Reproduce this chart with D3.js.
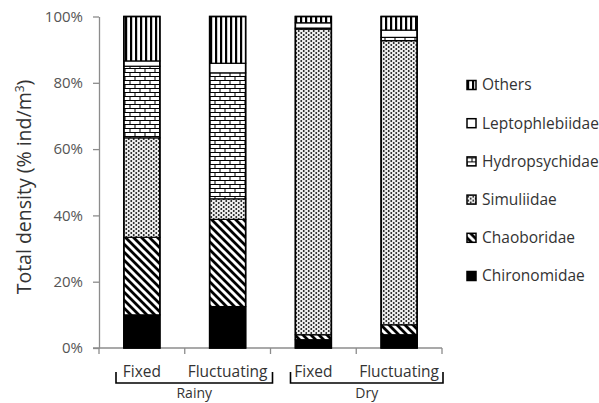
<!DOCTYPE html>
<html><head><meta charset="utf-8">
<script src="https://cdn.jsdelivr.net/npm/d3@7"></script>
<style>body{margin:0;background:#fff}svg{display:block}text{font-family:"Open Sans","Liberation Sans",sans-serif}</style>
</head><body><svg id="c" width="599" height="403"></svg>
<script>
const categories = ["Fixed","Fluctuating","Fixed","Fluctuating"];
const seasons = ["Rainy","Dry"];
const seriesNames = ["Chironomidae","Chaoboridae","Simuliidae","Hydropsychidae","Leptophlebiidae","Others"];
const chironomidae   = [10.0, 12.5, 2.5, 4.0];
const chaoboridae    = [23.4, 26.3, 1.5, 3.0];
const simuliidae     = [30.0,  6.2, 92.2, 85.7];
const hydropsychidae = [21.6, 38.0, 0.3, 1.0];
const leptophlebiidae= [ 1.6,  2.9, 1.6, 2.2];
const others         = [13.4, 14.1, 1.9, 4.1];
const yTicks = [0,20,40,60,80,100];

const seriesValues = [chironomidae, chaoboridae, simuliidae, hydropsychidae, leptophlebiidae, others];
const svg = d3.select("#c");
const defs = svg.append("defs");

// patterns
const pOth = defs.append("pattern").attr("id","pOthers").attr("patternUnits","userSpaceOnUse").attr("width",5).attr("height",10);
pOth.append("rect").attr("width",5).attr("height",10).attr("fill","#fff");
pOth.append("rect").attr("x",0).attr("width",2.2).attr("height",10).attr("fill","#000");

const pBr = defs.append("pattern").attr("id","pBrick").attr("patternUnits","userSpaceOnUse").attr("width",20).attr("height",8);
pBr.append("rect").attr("width",20).attr("height",8).attr("fill","#000");
[[0.5,1,9,3],[10.5,1,9,3],[-4.5,5,9,3],[5.5,5,9,3],[15.5,5,9,3]].forEach(r=>
  pBr.append("rect").attr("x",r[0]).attr("y",r[1]).attr("width",r[2]).attr("height",r[3]).attr("fill","#fff"));

const pDt = defs.append("pattern").attr("id","pDots").attr("patternUnits","userSpaceOnUse").attr("width",5).attr("height",4);
pDt.append("rect").attr("width",5).attr("height",4).attr("fill","#eee");
pDt.append("circle").attr("cx",1.25).attr("cy",1).attr("r",0.95).attr("fill","#1a1a1a");
pDt.append("circle").attr("cx",3.75).attr("cy",3).attr("r",0.95).attr("fill","#1a1a1a");

const pDg = defs.append("pattern").attr("id","pDiag").attr("patternUnits","userSpaceOnUse").attr("width",8).attr("height",8);
pDg.append("rect").attr("width",8).attr("height",8).attr("fill","#fff");
pDg.append("path").attr("d","M-3,-3L11,11M-3,5L3,11M5,-3L11,3").attr("stroke","#000").attr("stroke-width",2.8);

const fills = ["#000","url(#pDiag)","url(#pDots)","url(#pBrick)","#fff","url(#pOthers)"];

const x0 = 99, x1 = 442, yBottom = 348, yTop = 16.5;
const x = d3.scaleBand().domain(d3.range(categories.length)).range([x0,x1]).paddingInner(0.58).paddingOuter(0.29);
const xb = d3.scaleLinear().domain([0,categories.length]).range([x0,x1]);
const y = d3.scaleLinear().domain([0,100]).range([yBottom,yTop]);

const stackData = categories.map((c,i)=>{const o={i}; seriesNames.forEach((s,k)=>o[s]=seriesValues[k][i]); return o;});
const stacked = d3.stack().keys(seriesNames)(stackData);

const grey = "#8c8c8c";
// y axis
const yAx = svg.append("g").attr("transform",`translate(${x0},0)`)
  .call(d3.axisLeft(y).tickValues(yTicks).tickFormat(d=>d+"%").tickSize(6).tickSizeOuter(0));
yAx.select(".domain").attr("stroke",grey).attr("stroke-width",1.3);
yAx.selectAll(".tick line").attr("stroke",grey).attr("stroke-width",1.3);
yAx.selectAll(".tick text").attr("x",-16).attr("fill","#555").style("font-size","15px").style("font-family","'Open Sans'");

// x axis
svg.append("line").attr("x1",x0-6).attr("x2",x1).attr("y1",yBottom).attr("y2",yBottom).attr("stroke",grey).attr("stroke-width",1.3);
svg.append("g").selectAll("line").data(d3.range(categories.length+1)).join("line")
  .attr("x1",d=>xb(d)).attr("x2",d=>xb(d)).attr("y1",yBottom).attr("y2",yBottom+6).attr("stroke",grey).attr("stroke-width",1.3);

// bars
stacked.forEach((layer,k)=>{
  svg.append("g").selectAll("rect").data(layer).join("rect")
    .attr("x",d=>x(d.data.i)).attr("width",x.bandwidth())
    .attr("y",d=>y(d[1])).attr("height",d=>y(d[0])-y(d[1]))
    .attr("fill",fills[k]).attr("stroke","#000").attr("stroke-width",1.2);
});
svg.append("g").selectAll("rect").data(stackData).join("rect")
  .attr("x",d=>x(d.i)).attr("width",x.bandwidth()).attr("y",y(100)).attr("height",y(0)-y(100))
  .attr("fill","none").attr("stroke","#000").attr("stroke-width",1.6);

// category labels
svg.append("g").selectAll("text").data(categories).join("text")
  .attr("x",(d,i)=>x(i)+x.bandwidth()/2).attr("y",377).attr("text-anchor","middle")
  .attr("fill","#333").style("font-size","15.5px").text(d=>d);

// season brackets
const per = categories.length/seasons.length;
seasons.forEach((s,j)=>{
  const a = xb(j*per)+ (j===0?17:20), b = xb((j+1)*per) + (j===0?2:1);
  svg.append("path").attr("d",`M${a},372V383H${b}V372`).attr("fill","none").attr("stroke","#000").attr("stroke-width",1.6);
  svg.append("text").attr("x",(a+b)/2).attr("y",398).attr("text-anchor","middle").attr("fill","#333").style("font-size","14px").text(s);
});

// y title
const yt = svg.append("text").attr("transform","translate(31,187) rotate(-90)").attr("text-anchor","middle")
  .attr("fill","#333").style("font-size","19.5px");
yt.append("tspan").text("Total density (% ind/m");
yt.append("tspan").attr("dy",-7).style("font-size","12px").text("3");
yt.append("tspan").attr("dy",7).text(")");

// legend
const legOrder = seriesNames.map((s,k)=>k).reverse();
const lg = svg.append("g").selectAll("g").data(legOrder).join("g")
  .attr("transform",(k,j)=>`translate(467,${85 + j*38.2})`);
lg.append("rect").attr("x",0).attr("y",-4.5).attr("width",9).attr("height",9)
  .attr("fill",k=>fills[k]).attr("stroke","#000").attr("stroke-width",1.5);
lg.append("text").attr("x",15).attr("y",0).attr("dy","0.35em").attr("fill","#333").style("font-size","15.5px").text(k=>seriesNames[k]);
</script></body></html>
